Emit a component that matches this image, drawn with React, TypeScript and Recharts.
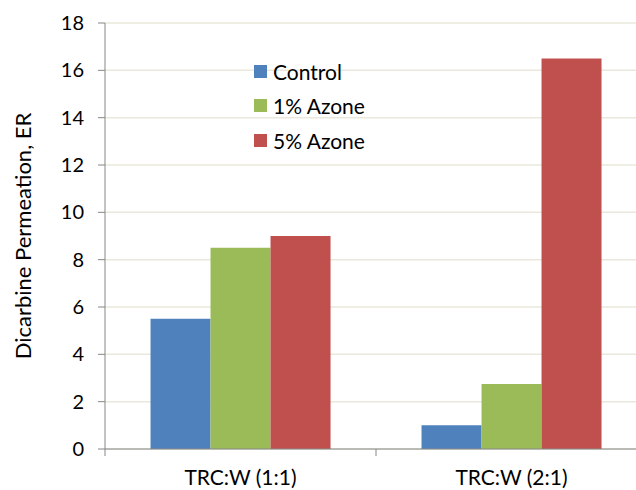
import React from 'react';
import { BarChart, Bar, XAxis, YAxis, CartesianGrid, Legend } from 'recharts';

const categories = ['TRC:W (1:1)', 'TRC:W (2:1)'];
const control = [5.5, 1.0];
const azone1 = [8.5, 2.75];
const azone5 = [9.0, 16.5];
const yTicks = [0, 2, 4, 6, 8, 10, 12, 14, 16, 18];
const seriesOrder = ['Control', '1% Azone', '5% Azone'];

const data = categories.map((c, i) => ({
  name: c,
  control: control[i],
  azone1: azone1[i],
  azone5: azone5[i],
}));

const FONT = 'Lato, "Liberation Sans", sans-serif';

const CatTick = (props: any) => {
  const { x, y, payload, index, visibleTicksCount } = props;
  const half = payload && typeof payload.offset === 'number' ? payload.offset : 0;
  const y0 = y - 21;
  const y1 = y - 14;
  const count = visibleTicksCount ?? categories.length;
  return (
    <g>
      <line x1={x - half} x2={x - half} y1={y0} y2={y1} stroke="#868686" strokeWidth={1} />
      {index === count - 1 && (
        <line x1={x + half} x2={x + half} y1={y0} y2={y1} stroke="#868686" strokeWidth={1} />
      )}
      <text x={x} y={y} dy="0.72em" textAnchor="middle" fill="#000" fontSize={21} fontFamily={FONT}>
        {payload.value}
      </text>
    </g>
  );
};

const LegendContent = (props: any) => {
  const payload = [...(props.payload || [])].sort(
    (a: any, b: any) => seriesOrder.indexOf(a.value) - seriesOrder.indexOf(b.value)
  );
  return (
    <div style={{ display: 'flex', flexDirection: 'column' }}>
      {payload.map((p: any) => (
        <div key={p.value} style={{ display: 'flex', alignItems: 'center', height: 34.5 }}>
          <span style={{ display: 'inline-block', width: 13, height: 13, background: p.color, marginRight: 6 }} />
          <span style={{ fontFamily: FONT, fontSize: 21, color: '#000' }}>{p.value}</span>
        </div>
      ))}
    </div>
  );
};

export default function App() {
  return (
    <div style={{ position: 'fixed', left: 0, top: 0, width: 636, height: 490, overflow: 'hidden', background: '#fff' }}>
      <BarChart
        width={660}
        height={490}
        data={data}
        margin={{ top: 23, right: 13, left: 10, bottom: 11 }}
        barCategoryGap="16.8%"
        barGap={0}
      >
        <CartesianGrid vertical={false} stroke="#EAE8DC" strokeWidth={1.5} />
        <XAxis
          dataKey="name"
          height={30}
          tickSize={7}
          tickMargin={14}
          tickLine={false}
          axisLine={{ stroke: '#868686' }}
          tick={<CatTick />}
          interval={0}
        />
        <YAxis
          width={95}
          domain={[0, 18]}
          ticks={yTicks}
          interval={0}
          tickSize={7}
          tickMargin={14}
          axisLine={{ stroke: '#868686' }}
          tickLine={{ stroke: '#868686' }}
          tick={{ fill: '#000', fontSize: 20, fontFamily: FONT }}
          label={{
            value: 'Dicarbine Permeation, ER',
            angle: -90,
            position: 'insideLeft',
            offset: 13,
            style: { textAnchor: 'middle', fill: '#000', fontSize: 22, fontFamily: FONT },
          }}
        />
        <Legend
          layout="horizontal"
          verticalAlign="middle"
          align="center"
          itemSorter={null as any}
          content={<LegendContent />}
          wrapperStyle={{ left: 254, top: 54, width: 150 }}
        />
        <Bar dataKey="control" name="Control" fill="#4F81BD" isAnimationActive={false} />
        <Bar dataKey="azone1" name="1% Azone" fill="#9BBB59" isAnimationActive={false} />
        <Bar dataKey="azone5" name="5% Azone" fill="#C0504D" isAnimationActive={false} />
      </BarChart>
    </div>
  );
}
